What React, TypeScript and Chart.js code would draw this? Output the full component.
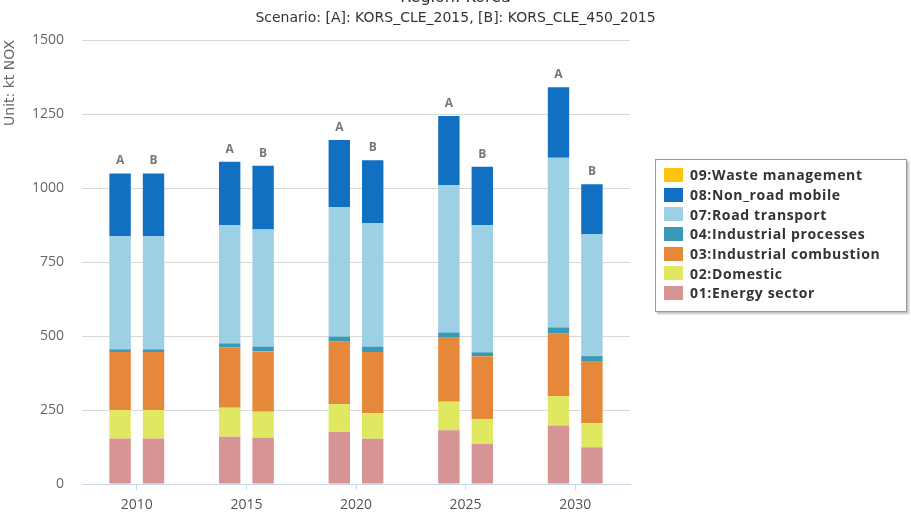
import React, { useEffect, useRef } from "react";
import { Chart, registerables } from "chart.js";

Chart.register(...registerables);

const years = ["2010", "2015", "2020", "2025", "2030"];
const yTicks = [0, 250, 500, 750, 1000, 1250, 1500];

const sectorNames = [
  "01:Energy sector",
  "02:Domestic",
  "03:Industrial combustion",
  "04:Industrial processes",
  "07:Road transport",
  "08:Non_road mobile",
  "09:Waste management",
];
const sectorColors = ["#d69495", "#e0e862", "#e5883a", "#3a9ab5", "#9dcfe5", "#1170c2", "#ffc20e"];

// Scenario A: KORS_CLE_2015
const energyA = [154, 160, 176, 182, 198];
const domesticA = [96, 98, 94, 96, 99];
const indCombA = [196, 203, 211, 216, 212];
const indProcA = [9, 14, 17, 18, 20];
const roadA = [383, 399, 437, 497, 573];
const nonRoadA = [211, 215, 227, 234, 238];
const wasteA = [0, 0, 0, 0, 0];

// Scenario B: KORS_CLE_450_2015
const energyB = [154, 156, 153, 135, 124];
const domesticB = [96, 88, 86, 85, 81];
const indCombB = [196, 204, 207, 212, 208];
const indProcB = [9, 16, 18, 13, 19];
const roadB = [383, 396, 417, 429, 413];
const nonRoadB = [211, 215, 213, 198, 168];
const wasteB = [0, 0, 0, 0, 0];

const seriesA = [energyA, domesticA, indCombA, indProcA, roadA, nonRoadA, wasteA];
const seriesB = [energyB, domesticB, indCombB, indProcB, roadB, nonRoadB, wasteB];

const FONT = "'Open Sans', sans-serif";
const WIDE = "'DejaVu Sans', sans-serif";

const stackLabelPlugin = {
  id: "stackLabels",
  afterDatasetsDraw(chart: any) {
    const ctx = chart.ctx;
    ctx.save();
    ctx.font = `bold 12px ${FONT}`;
    ctx.fillStyle = "#777";
    ctx.textAlign = "center";
    ctx.textBaseline = "middle";
    ["A", "B"].forEach((stack) => {
      years.forEach((_, i) => {
        let top = Infinity;
        let x = 0;
        chart.data.datasets.forEach((ds: any, di: number) => {
          if (ds.stack !== stack) return;
          const meta = chart.getDatasetMeta(di);
          const el = meta.data[i];
          if (!el) return;
          if (el.y < top) {
            top = el.y;
            x = el.x;
          }
        });
        if (top !== Infinity) ctx.fillText(stack, x, top - 12.5);
      });
    });
    ctx.restore();
  },
};

export default function App() {
  const ref = useRef<HTMLCanvasElement>(null);

  useEffect(() => {
    if (!ref.current) return;
    const datasets: any[] = [];
    sectorNames.forEach((name, k) => {
      datasets.push({
        label: name,
        data: seriesA[k],
        backgroundColor: sectorColors[k],
        stack: "A",
      });
    });
    sectorNames.forEach((name, k) => {
      datasets.push({
        label: name,
        data: seriesB[k],
        backgroundColor: sectorColors[k],
        stack: "B",
      });
    });

    const chart = new Chart(ref.current, {
      type: "bar",
      data: { labels: years, datasets },
      plugins: [stackLabelPlugin],
      options: {
        animation: false,
        responsive: true,
        maintainAspectRatio: false,
        datasets: {
          bar: { categoryPercentage: 0.61, barPercentage: 0.64, borderWidth: 0 },
        },
        layout: { padding: 0 },
        plugins: {
          legend: { display: false },
          tooltip: { enabled: false },
          title: {
            display: true,
            text: "Region: Korea",
            color: "#333",
            font: { family: WIDE, size: 16, weight: "normal" },
            padding: { top: 8.4, bottom: 2 },
          },
          subtitle: {
            display: true,
            text: "Scenario: [A]: KORS_CLE_2015, [B]: KORS_CLE_450_2015",
            color: "#333",
            font: { family: WIDE, size: 14, weight: "normal" },
            padding: { top: 0, bottom: 13.6 },
          },
        },
        scales: {
          x: {
            stacked: true,
            grid: {
              display: true,
              drawOnChartArea: false,
              drawTicks: true,
              tickLength: 6,
              offset: false,
              color: "#ccd6eb",
            },
            border: { display: true, color: "#ccd6eb" },
            ticks: { color: "#555", font: { family: FONT, size: 14 }, padding: 7 },
            afterFit: (scale: any) => {
              scale.height = 28;
            },
          },
          y: {
            stacked: true,
            min: 0,
            max: 1500,
            afterBuildTicks: (scale: any) => {
              scale.ticks = yTicks.map((v) => ({ value: v }));
            },
            grid: { color: "#d8d8d8", drawTicks: false },
            border: { display: false },
            ticks: {
              color: "#666",
              font: { family: FONT, size: 14 },
              padding: 18,
              callback: (v: any) => String(v),
            },
            title: {
              display: true,
              text: "Unit: kt NOX",
              align: "end",
              color: "#666",
              font: { family: WIDE, size: 14, weight: "normal" },
              padding: { top: 2, bottom: 0 },
            },
            afterFit: (scale: any) => {
              scale.width = 82;
            },
          },
          legendSpace: {
            type: "linear",
            position: "right",
            display: true,
            grid: { display: false, drawTicks: false },
            border: { display: false },
            ticks: { display: false },
            afterFit: (scale: any) => {
              scale.width = 281;
            },
          },
        },
      } as any,
    });
    return () => chart.destroy();
  }, []);

  return (
    <>
      <div style={{ position: "absolute", left: 0, top: -20, width: 911, height: 532 }}>
        <canvas ref={ref} style={{ display: "block" }} />
      </div>
      <div
        style={{
          position: "absolute",
          left: 655,
          top: 159,
          width: 250,
          height: 146,
          border: "1px solid #999",
          boxShadow: "2px 2px 2px rgba(0,0,0,0.25)",
          background: "#fff",
          boxSizing: "content-box",
          paddingTop: 5,
          fontFamily: FONT,
        }}
      >
        {sectorNames
          .map((n, k) => ({ n, c: sectorColors[k] }))
          .reverse()
          .map((it) => (
            <div
              key={it.n}
              style={{ display: "flex", alignItems: "center", height: 19.7, paddingLeft: 8 }}
            >
              <span style={{ display: "inline-block", width: 19, height: 14, background: it.c, marginRight: 7 }} />
              <span
                style={{
                  fontWeight: "bold",
                  fontSize: 14,
                  color: "#333",
                  whiteSpace: "nowrap",
                  letterSpacing: "0.65px",
                }}
              >
                {it.n}
              </span>
            </div>
          ))}
      </div>
    </>
  );
}
